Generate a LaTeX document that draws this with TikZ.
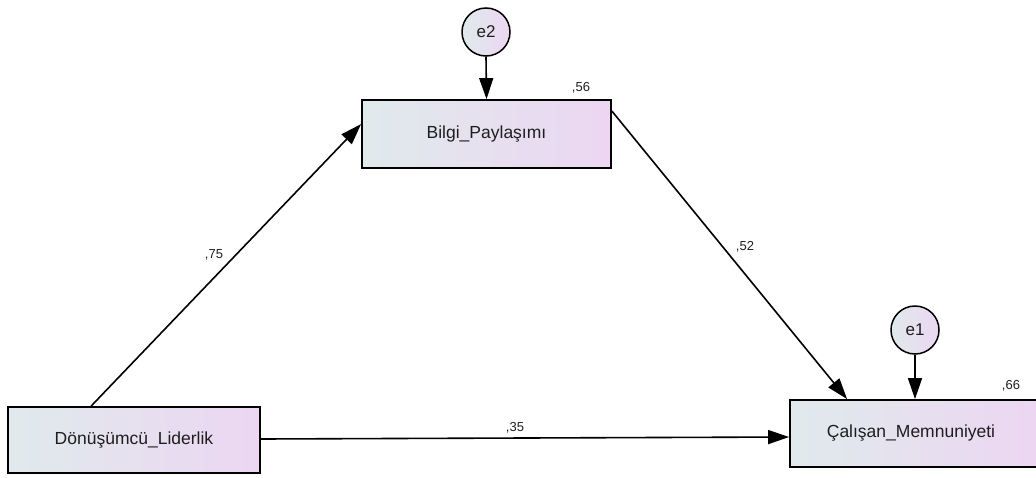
\documentclass[tikz,border=0pt]{standalone}
\usepackage{fontspec}
\setmainfont{Liberation Sans}
\usetikzlibrary{arrows.meta,calc}
\definecolor{lft}{RGB}{224,234,236}
\definecolor{rgt}{RGB}{236,214,242}
\definecolor{txt}{RGB}{30,30,30}
\tikzset{
  obsbox/.style={draw=black, line width=1.8pt, left color=lft, right color=rgt, shading angle=90,
    font=\fontsize{17.5}{20}\selectfont, text=txt, inner sep=0pt},
  errc/.style={circle, draw=black, line width=1.5pt, left color=lft, right color=rgt,
    minimum size=48pt, inner sep=0pt, font=\fontsize{17}{20}\selectfont, text=txt},
  path/.style={line width=1.6pt, -{Triangle[length=21pt,width=14pt]}},
  coef/.style={font=\fontsize{13}{15}\selectfont, text=txt, inner sep=0pt}
}
\begin{document}
\begin{tikzpicture}[x=1pt,y=-1pt]
\useasboundingbox (0,0) rectangle (1036,477);
\node[obsbox, minimum width=249pt, minimum height=68pt] (bp) at (486.5,134) {Bilgi\_Paylaşımı};
\node[obsbox, minimum width=252pt, minimum height=66pt] (dl) at (134,440) {Dönüşümcü\_Liderlik};
\node[obsbox, minimum width=248pt, minimum height=67pt, text width=242pt, align=center] (cm) at (914,433.5) {\hspace*{-6pt}Çalışan\_Memnuniyeti};
\node[errc] (e2) at (486,32) {e2};
\node[errc] (e1) at (915,330) {e1};
\draw[path] (e2.south) -- (bp.north);
\draw[path] (e1.south) -- (e1.south |- cm.north);
\draw[path] ([xshift=84pt]dl.north west) -- ([yshift=-25pt]bp.north west);
\draw[path] ([yshift=-12pt]bp.north east) -- ([xshift=58pt]cm.north west);
\draw[path] ([yshift=1pt]dl.east) -- ([yshift=-3.5pt]cm.west);
\node[coef] (c56) at (581,88) {,56};
\node[coef] (c66) at (1011,386) {,66};
\node[coef] (c75) at (214,255) {,75};
\node[coef] (c52) at (745,247) {,52};
\node[coef] (c35) at (515,428) {,35};
\end{tikzpicture}
\end{document}
